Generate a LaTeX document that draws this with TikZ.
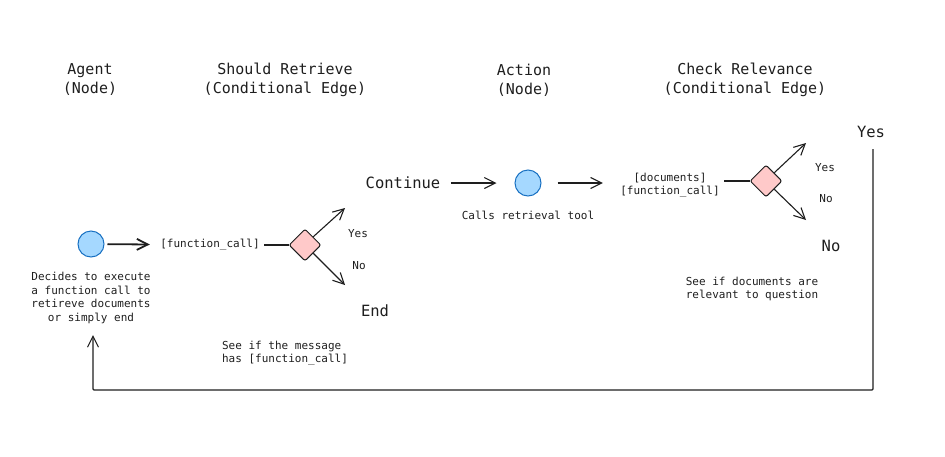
\documentclass[tikz,border=0pt]{standalone}
\usepackage{fontspec}
\setmonofont{DejaVu Sans Mono}
\usetikzlibrary{shapes.geometric,arrows.meta,positioning}
\definecolor{nodeblue}{HTML}{A5D8FF}
\definecolor{nodeedge}{HTML}{1971C2}
\definecolor{condpink}{HTML}{FFC9C9}
\definecolor{ink}{HTML}{1E1E1E}

\begin{document}
\begin{tikzpicture}[x=1pt,y=-1pt,
  title/.style={font=\ttfamily\fontsize{15}{19}\selectfont, align=center, text=ink},
  big/.style={font=\ttfamily\fontsize{15.5}{19}\selectfont, text=ink},
  note/.style={font=\ttfamily\fontsize{11}{13.5}\selectfont, text=ink, align=center},
  graphnode/.style={circle, draw=nodeedge, fill=nodeblue, line width=1pt, minimum size=26pt, inner sep=0pt},
  condnode/.style={diamond, draw=ink, fill=condpink, line width=1pt, minimum size=32pt, inner sep=0pt, rounded corners=2pt},
  arr/.style={draw=ink, line width=1.1pt, -{Straight Barb[length=11pt,width=11pt]}},
  wire/.style={draw=ink, line width=1.1pt}]
  \useasboundingbox (0,0) rectangle (945,456);

  % column titles
  \node[title] (agenttitle) at (90,80) {Agent\\(Node)};
  \node[title] (retrtitle) at (285,80) {Should Retrieve\\(Conditional Edge)};
  \node[title] (actiontitle) at (524,80) {Action\\(Node)};
  \node[title] (checktitle) at (745,80) {Check Relevance\\(Conditional Edge)};

  % agent
  \node[graphnode] (agent) at (91,244) {};
  \node[note] (agentnote) at (91,298) {Decides to execute\\a function call to\\retireve documents\\or simply end};
  \node[note] (fcall) at (210,245) {[function\_call]};
  \draw[arr, line width=1.8pt, shorten <=3pt, shorten >=7pt] (agent) -- (fcall);

  % should retrieve
  \node[condnode] (retrieve) at (305,245) {};
  \draw[wire, shorten <=1pt] (fcall) -- (retrieve);
  \coordinate (retryes) at (345,208);
  \coordinate (retrno) at (345,285);
  \draw[arr] (retrieve.north east) -- (retryes);
  \draw[arr] (retrieve.south east) -- (retrno);
  \node[note] (retryeslbl) at (358,234) {Yes};
  \node[note] (retrnolbl) at (359,266) {No};
  \node[big] (endlbl) at (375,311) {End};
  \node[note, align=left] (retrnote) at (285,353) {See if the message\\{}has [function\_call]};

  % action
  \node[big] (continue) at (403,183) {Continue};
  \node[graphnode] (action) at (528,183) {};
  \draw[arr, shorten <=7pt, shorten >=18pt] (continue) -- (action);
  \node[note] (actionnote) at (528,215) {Calls retrieval tool};
  \node[note] (docs) at (670,185) {[documents]\\{}[function\_call]};
  \draw[arr, shorten <=16pt, shorten >=14pt] (action.east) -- (docs.west |- action.east);

  % check relevance
  \node[condnode] (check) at (766,181) {};
  \draw[wire, line width=1.8pt, shorten <=1pt] (docs.east |- check.west) -- (check.west);
  \coordinate (checkyes) at (806,143);
  \coordinate (checkno) at (806,220);
  \draw[arr] (check.north east) -- (checkyes);
  \draw[arr] (check.south east) -- (checkno);
  \node[note] (checkyeslbl) at (825,168) {Yes};
  \node[note] (checknolbl) at (826,199) {No};
  \node[big] (nolbl) at (831,246) {No};
  \node[big] (yeslbl) at (871,132) {Yes};
  \node[note, align=left] (checknote) at (752,289) {See if documents are\\relevant to question};

  % loop back to agent
  \coordinate (looptop) at (873,149);
  \coordinate (loopright) at (873,390);
  \coordinate (loopleft) at (93,390);
  \coordinate (looptip) at (93,335);
  \draw[arr, rounded corners=1pt] (looptop) -- (loopright) -- (loopleft) -- (looptip);
\end{tikzpicture}
\end{document}
